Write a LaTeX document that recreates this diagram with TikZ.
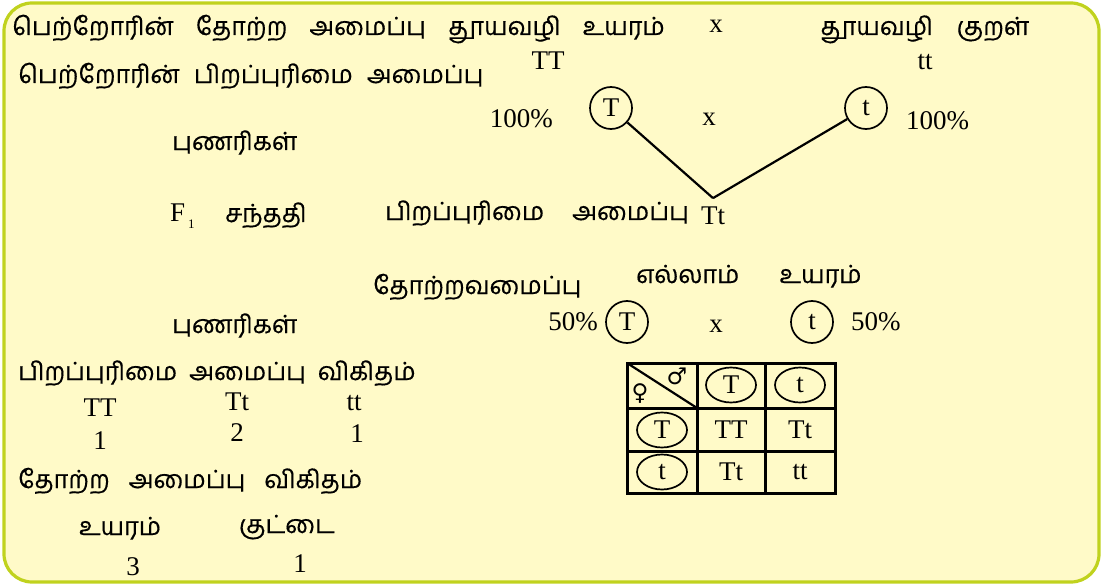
\documentclass[tikz,border=0pt]{standalone}
\usepackage{fontspec}
\setmainfont{Liberation Serif}
\newfontfamily\tamil[Script=Tamil, FakeBold=0.4]{Hind Madurai}
\newfontfamily\symb{DejaVu Sans}
\usetikzlibrary{shapes.geometric,positioning}
\definecolor{panel}{HTML}{FFFAC8}
\definecolor{rim}{HTML}{C0D21E}
\newcommand{\gp}[1]{\hspace{#1pt}}

\begin{document}
\begin{tikzpicture}[
  x=1pt, y=-1pt,
  font=\fontsize{27}{30}\selectfont,
  lt/.style={inner sep=0pt},
  ta/.style={inner sep=0pt, font=\tamil\fontsize{25}{29}\selectfont},
  gam/.style={draw, circle, line width=1.7pt, minimum size=42pt, inner sep=0pt},
  hdr/.style={draw, ellipse, line width=1.7pt, minimum width=50pt, minimum height=35pt, inner sep=0pt},
  sex/.style={inner sep=0pt, font=\symb\fontsize{23}{23}\selectfont},
  gridln/.style={line width=3pt},
  link/.style={line width=2.2pt}
]
\useasboundingbox (0,0) rectangle (1102,585);
\draw[rim, fill=panel, line width=3.2pt, rounded corners=28pt] (4,3) rectangle (1099,582);

% parents
\node[ta, anchor=base west] (ph) at (12,35) {பெற்றோரின்\gp{22}தோற்ற\gp{22}அமைப்பு\gp{22}தூயவழி\gp{22}உயரம்};
\node[lt, anchor=base] (cx1) at (716,33) {x};
\node[ta, anchor=base west] (dw) at (820,35) {தூயவழி\gp{24}குறள்};
\node[ta, anchor=base west] (pg) at (18,83) {பெற்றோரின்\gp{14}பிறப்புரிமை\gp{14}அமைப்பு};
\node[lt, anchor=base] (pTT) at (548,70) {TT};
\node[lt, anchor=base] (ptt) at (925,70) {tt};

% parent gametes
\node[ta, anchor=base west] (gm1) at (172,150) {புணரிகள்};
\node[lt, anchor=base east] (pc1) at (553,128) {100\%};
\node[gam] (gT1) at (611,108) {T};
\node[lt, anchor=base] (cx2) at (709,126) {x};
\node[gam] (gt1) at (866,108) {t};
\node[lt, anchor=base west] (pc2) at (906,130) {100\%};

% F1
\node[lt, anchor=base west] (f1) at (170,222) {F\hspace{3pt}\raisebox{-7pt}{\fontsize{13}{13}\selectfont 1}};
\node[ta, anchor=base west] (f1l) at (225,222) {சந்ததி};
\node[ta, anchor=base west] (f1g) at (385,220) {பிறப்புரிமை\gp{28}அமைப்பு};
\node[lt, anchor=base] (Tt) at (713,225) {Tt};
\coordinate (join) at ([yshift=9pt]Tt.north);
\node[ta, anchor=base west] (ph1) at (636,283) {எல்லாம்\gp{40}உயரம்};
\node[ta, anchor=base west] (ph1l) at (373,294) {தோற்றவமைப்பு};

% F1 gametes
\node[ta, anchor=base west] (gm2) at (172,333) {புணரிகள்};
\node[lt, anchor=base east] (pc3) at (598,330) {50\%};
\node[gam] (gT2) at (627,322) {T};
\node[lt, anchor=base] (cx3) at (716,332) {x};
\node[gam] (gt2) at (812,322) {t};
\node[lt, anchor=base west] (pc4) at (851,330) {50\%};

% ratios
\node[ta, anchor=base west] (gr) at (18,380) {பிறப்புரிமை\gp{12}அமைப்பு\gp{12}விகிதம்};
\node[lt, anchor=base] (r1) at (100,416) {TT};
\node[lt, anchor=base] (r2) at (237,410) {Tt};
\node[lt, anchor=base] (r3) at (354,410) {tt};
\node[lt, anchor=base] (n1) at (100,449) {1};
\node[lt, anchor=base] (n2) at (237,441) {2};
\node[lt, anchor=base] (n3) at (357,442) {1};
\node[ta, anchor=base west] (pr) at (18,488) {தோற்ற\gp{19}அமைப்பு\gp{19}விகிதம்};
\node[ta, anchor=base] (tall) at (120,535) {உயரம்};
\node[ta, anchor=base] (dwarf) at (287,533) {குட்டை};
\node[lt, anchor=base] (m1) at (133,575) {3};
\node[lt, anchor=base] (m2) at (300,572) {1};

% Punnett square
\draw[gridln] (627,363) rectangle (835,493);
\draw[gridln] (697,363) -- (697,493) (765,363) -- (765,493)
              (627,408) -- (835,408) (627,451) -- (835,451);
\draw[line width=2.2pt] (627,363) -- (697,408);
\node[sex] (male) at (677,376) {♂};
\node[sex] (fem) at (640,394) {♀};
\node[hdr] (hT) at (731,385) {T};
\node[hdr] (ht) at (800,385) {t};
\node[hdr] (vT) at (662,430) {T};
\node[hdr] (vt) at (662,472) {t};
\node[lt] (cTT) at (731,430) {TT};
\node[lt] (cTt) at (800,430) {Tt};
\node[lt] (ctT) at (731,472) {Tt};
\node[lt] (ctt) at (800,472) {tt};

\draw[link] (gT1) -- (join);
\draw[link] (gt1) -- (join);
\end{tikzpicture}
\end{document}
